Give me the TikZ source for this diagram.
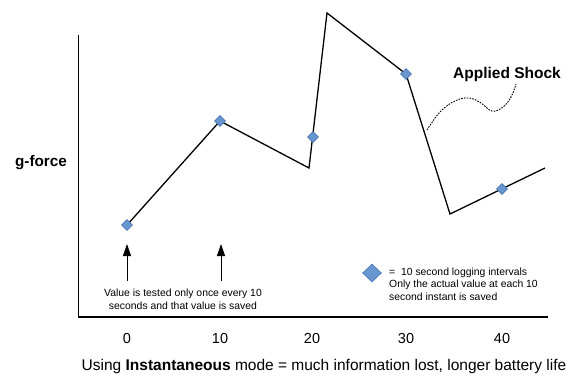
\documentclass[tikz,border=0pt]{standalone}
\usepackage{fontspec}
\setmainfont{Liberation Sans}
\usetikzlibrary{shapes.geometric,arrows.meta}
\definecolor{dfill}{RGB}{104,150,206}
\definecolor{dline}{RGB}{70,115,180}
\tikzset{
  sample/.style={diamond,draw=dline,fill=dfill,line width=0.6pt,inner sep=0pt,minimum width=11pt,minimum height=11pt},
  bigsample/.style={diamond,draw=dline,fill=dfill,line width=0.6pt,inner sep=0pt,minimum width=19pt,minimum height=18pt},
  axis/.style={line width=1.3pt},
  trace/.style={line width=1.3pt},
  ticklab/.style={font=\fontsize{14.5}{16}\selectfont},
  small/.style={font=\fontsize{10.4}{12.5}\selectfont,align=left},
  pointer/.style={line width=0.9pt,-{Triangle[length=12pt,width=8pt]}},
}
\begin{document}
\begin{tikzpicture}[x=1pt,y=-1pt]
\useasboundingbox (0,0) rectangle (575,378);
% axes
\coordinate (ytop) at (78.5,35);
\coordinate (orig) at (78.5,317);
\coordinate (xend) at (548,317);
\draw[axis] (ytop) -- (orig) -- (xend);
% trace corner points
\coordinate (p0) at (127,225);
\coordinate (p1) at (220,121);
\coordinate (p2) at (309,168);
\coordinate (p3) at (327,13);
\coordinate (p4) at (406,74);
\coordinate (p5) at (450,214);
\coordinate (p6) at (545,168);
\draw[trace,line join=miter] (p0) -- (p1) -- (p2) -- (p3) -- (p4) -- (p5) -- (p6);
% samples
\node[sample] (s0) at (p0) {};
\node[sample] (s1) at (p1) {};
\node[sample] (s2) at (313,137) {};
\node[sample] (s3) at (p4) {};
\node[sample] (s4) at (502,189) {};
% labels
\node[font=\fontsize{15.3}{17}\selectfont\bfseries] (gf) at (41,163) {g-force};
\node[font=\fontsize{15.5}{17}\selectfont\bfseries] (shock) at (507,74) {Applied Shock};
\draw[line width=0.9pt,dash pattern=on 1.6pt off 1.2pt] plot[smooth,tension=0.7] coordinates {(427,130) (440,112) (455,101) (469,98) (481,103) (492,111) (503,107) (511,97) (516,84)};
% tick labels
\node[ticklab] (t0) at (127,339) {0};
\node[ticklab] (t1) at (220,339) {10};
\node[ticklab] (t2) at (312,339) {20};
\node[ticklab] (t3) at (406,339) {30};
\node[ticklab] (t4) at (502,339) {40};
% arrows
\coordinate (a0b) at (127,281);
\coordinate (a0t) at (127,244);
\coordinate (a1b) at (221,281);
\coordinate (a1t) at (221,244);
\draw[pointer] (a0b) -- (a0t);
\draw[pointer] (a1b) -- (a1t);
\node[small,align=center] (note) at (183,299.5) {Value is tested only once every 10\\seconds and that value is saved};
% legend
\node[bigsample] (leg) at (372,273) {};
\node[small,anchor=north west,inner sep=0pt] (legtxt) at (389,267.5) {=\ \ 10 second logging intervals\\Only the actual value at each 10\\second instant is saved};
% caption
\node[font=\fontsize{15.5}{17}\selectfont] (cap) at (324,366) {Using \textbf{Instantaneous} mode = much information lost, longer battery life};
\end{tikzpicture}
\end{document}
